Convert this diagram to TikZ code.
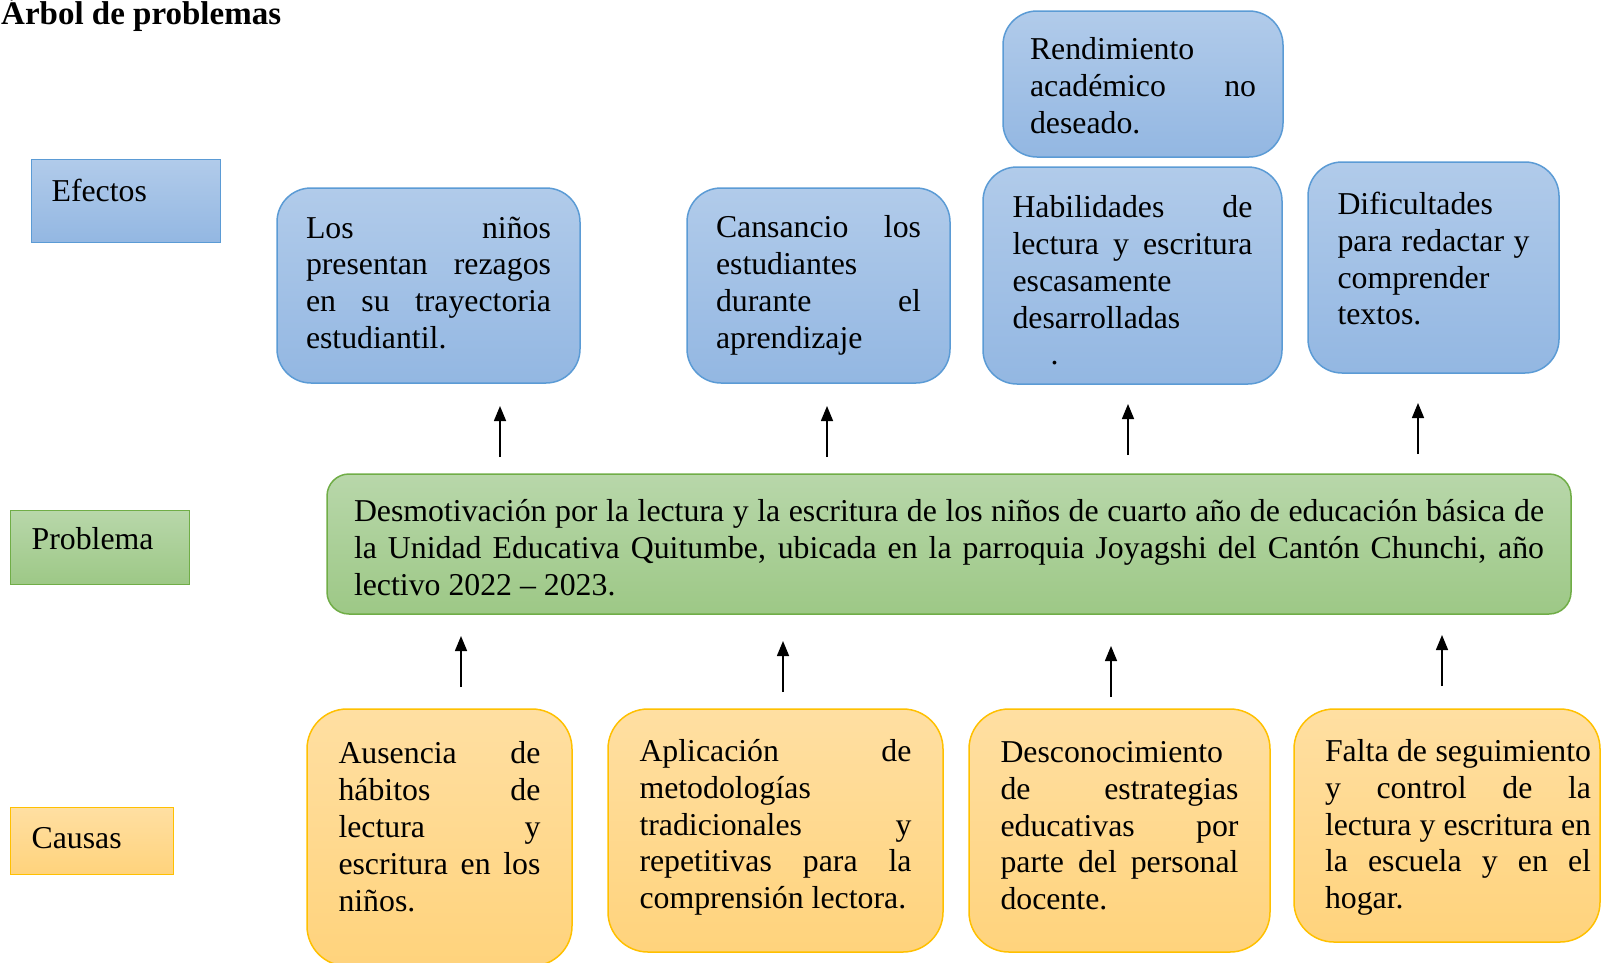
\documentclass[tikz,border=0pt]{standalone}
\usepackage{fontspec}
\setmainfont{Liberation Serif}
\usetikzlibrary{arrows.meta}
\definecolor{azulsup}{RGB}{177,203,234}
\definecolor{azulinf}{RGB}{147,183,226}
\definecolor{azulborde}{RGB}{91,155,213}
\definecolor{verdesup}{RGB}{184,215,170}
\definecolor{verdeinf}{RGB}{157,200,134}
\definecolor{verdeborde}{RGB}{112,173,71}
\definecolor{naranjasup}{RGB}{255,223,162}
\definecolor{naranjainf}{RGB}{255,211,124}
\definecolor{naranjaborde}{RGB}{255,192,0}
\newcommand{\letra}{\fontsize{31.8pt}{36.8pt}\selectfont}
\newcommand{\alto}[1]{\rule{0pt}{#1}}
\newcommand{\hondo}[1]{\rule[-#1]{0pt}{#1}}
\hbadness=10000

\begin{document}
\begin{tikzpicture}[x=1pt,y=-1pt,
	caja/.style={line width=1.5pt,align=justify,font=\letra,inner sep=0pt},
	efecto/.style={caja,draw=azulborde,top color=azulsup,bottom color=azulinf,rounded corners=34pt},
	problema/.style={caja,draw=verdeborde,top color=verdesup,bottom color=verdeinf,rounded corners=22pt},
	causa/.style={caja,draw=naranjaborde,top color=naranjasup,bottom color=naranjainf,rounded corners=40pt},
	etiqueta/.style={line width=1.2pt,font=\letra,align=left,inner ysep=0pt,anchor=north west},
	flecha/.style={-{Triangle[width=12pt,length=15pt]},line width=1.5pt}]
	\useasboundingbox (0,0) rectangle (1602,962);
	\node[font=\fontsize{33pt}{38pt}\selectfont\bfseries,anchor=base west,inner sep=0pt] (titulo) at (1,24) {Árbol de problemas};
	% etiquetas
	\node[etiqueta,draw=azulborde,top color=azulsup,bottom color=azulinf,text width=149pt,inner xsep=20pt,text height=42pt,text depth=41pt] (efectos) at (31,159) {Efectos};
	\node[etiqueta,draw=verdeborde,top color=verdesup,bottom color=verdeinf,text width=137pt,inner xsep=21pt,text height=39pt,text depth=35pt] (problema) at (10,510) {Problema};
	\node[etiqueta,draw=naranjaborde,top color=naranjasup,bottom color=naranjainf,text width=121pt,inner xsep=21pt,text height=40.5pt,text depth=26.5pt] (causas) at (10,807) {Causas};
	% efectos
	\node[efecto,minimum width=280pt,minimum height=146pt,text width=226pt] (rend) at (1143,84) {\alto{25pt}Rendimiento\linebreak académico no\linebreak deseado.};
	\node[efecto,minimum width=303pt,minimum height=195pt,text width=245pt] (e1) at (428.5,285.5) {Los niños\linebreak presentan rezagos\linebreak en su trayectoria\linebreak estudiantil.\hondo{6pt}};
	\node[efecto,minimum width=263pt,minimum height=195pt,text width=205pt] (e2) at (818.5,285.5) {Cansancio los\linebreak estudiantes\linebreak durante el\linebreak aprendizaje};
	\node[efecto,minimum width=299pt,minimum height=217pt,text width=240pt] (e3) at (1132.5,275.5) {\alto{32pt}Habilidades de\linebreak lectura y escritura\linebreak escasamente\linebreak desarrolladas\linebreak\hspace*{38pt}.};
	\node[efecto,minimum width=251pt,minimum height=211pt,text width=192pt] (e4) at (1433.5,267.5) {Dificultades\linebreak para redactar y\linebreak comprender\linebreak textos.\hondo{18pt}};
	% problema central
	\node[problema,minimum width=1244pt,minimum height=140pt,text width=1190pt] (prob) at (949,544) {\alto{29pt}Desmotivación por la lectura y la escritura de los niños de cuarto año de educación básica de\linebreak la Unidad Educativa Quitumbe, ubicada en la parroquia Joyagshi del Cantón Chunchi, año\linebreak lectivo 2022 – 2023.};
	% causas
	\node[causa,minimum width=265pt,minimum height=257pt,text width=202pt] (c1) at (439.5,837.5) {Ausencia de\linebreak hábitos de\linebreak lectura y\linebreak escritura en los\linebreak niños.\hondo{22pt}};
	\node[causa,minimum width=335pt,minimum height=243pt,text width=272pt] (c2) at (775.5,830.5) {Aplicación de\linebreak metodologías\linebreak tradicionales y\linebreak repetitivas para la\linebreak comprensión lectora.\hondo{13pt}};
	\node[causa,minimum width=301pt,minimum height=243pt,text width=238pt] (c3) at (1119.5,830.5) {Desconocimiento\linebreak de estrategias\linebreak educativas por\linebreak parte del personal\linebreak docente.\hondo{10pt}};
	\node[causa,minimum width=306pt,minimum height=233pt,text width=288pt] (c4) at (1447,825.5) {\alto{26pt}Falta de seguimiento\linebreak y control de la\linebreak lectura y escritura en\linebreak la escuela y en el\linebreak hogar.\leftskip=22pt\relax\par};
	% flechas
	\coordinate (fe1) at (500,457); \coordinate (fe1') at (500,406);
	\coordinate (fe2) at (827,457); \coordinate (fe2') at (827,406);
	\coordinate (fe3) at (1128,455); \coordinate (fe3') at (1128,404);
	\coordinate (fe4) at (1418,454); \coordinate (fe4') at (1418,403);
	\coordinate (fc1) at (461,687); \coordinate (fc1') at (461,636);
	\coordinate (fc2) at (783,692); \coordinate (fc2') at (783,641);
	\coordinate (fc3) at (1111,697); \coordinate (fc3') at (1111,646);
	\coordinate (fc4) at (1442,686); \coordinate (fc4') at (1442,635);
	\draw[flecha] (fe1) to (fe1');
	\draw[flecha] (fe2) to (fe2');
	\draw[flecha] (fe3) to (fe3');
	\draw[flecha] (fe4) to (fe4');
	\draw[flecha] (fc1) to (fc1');
	\draw[flecha] (fc2) to (fc2');
	\draw[flecha] (fc3) to (fc3');
	\draw[flecha] (fc4) to (fc4');
\end{tikzpicture}
\end{document}
